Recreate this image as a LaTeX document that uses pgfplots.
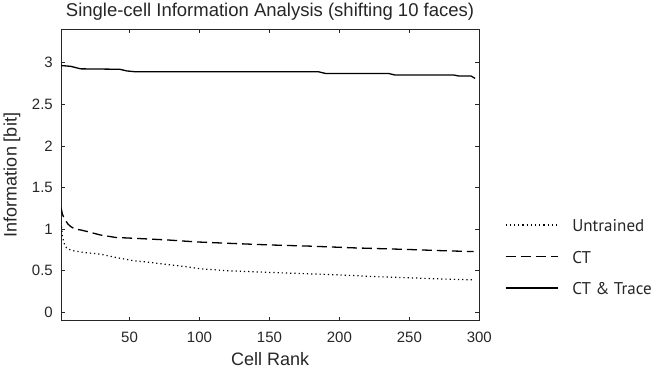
\documentclass[border=0pt]{standalone}
\usepackage{fontspec}
\setmainfont{Liberation Sans}
\newfontfamily\legfont{PT Sans}
\usepackage{pgfplots}
\pgfplotsset{compat=1.18}
\definecolor{axgray}{rgb}{0.15,0.15,0.15}
\begin{document}
\begin{tikzpicture}
\path[use as bounding box] (0,0) rectangle (651bp,374bp);
\begin{axis}[
  at={(61bp,53.3bp)}, anchor=south west,
  scale only axis, width=418.3bp, height=291.4bp,
  xmin=1, xmax=300, ymin=-0.1, ymax=3.4,
  xtick={50,100,150,200,250,300},
  ytick={0,0.5,1,1.5,2,2.5,3},
  yticklabels={0,0.5,1,1.5,2,2.5,3},
  tick align=inside, major tick length=4bp,
  axis line style={draw=axgray, line width=0.6bp},
  every tick/.style={draw=axgray, line width=0.6bp},
  /pgf/number format/assume math mode=true,
  tick label style={font=\fontsize{15bp}{18bp}\selectfont, text=axgray},
  xticklabel style={anchor=base, yshift=-21.6bp, inner sep=0pt},
  yticklabel style={anchor=east, inner sep=0pt, xshift=-8bp},
  label style={font=\fontsize{18bp}{21bp}\selectfont, text=axgray},
  xlabel={Cell Rank},
  ylabel={Information [bit]},
  xlabel style={at={(axis description cs:0.5,-0.155)}, anchor=base, inner sep=0pt},
  ylabel style={at={(axis description cs:-0.117,0.5)}, anchor=center, inner sep=0pt},
  title={Single-cell Information Analysis (shifting 10 faces)},
  title style={at={(axis description cs:0.4997,1.0227)}, anchor=base, inner sep=0pt,
    font=\fontsize{18.5bp}{22bp}\selectfont, text=axgray},
  legend style={at={(1.061,0.215)}, anchor=west, draw=none, fill=none,
    font=\legfont\fontsize{17bp}{20bp}\selectfont, text=axgray,
    row sep=18bp, column sep=14bp, inner sep=0pt, nodes={inner sep=0pt}},
  legend cell align=left,
  legend image code/.code={\draw[#1] (0bp,1.5bp) -- (52bp,1.5bp);},
]
\addplot[black, line width=1.2bp, dash pattern=on 1.2bp off 3bp] coordinates {
(1,1.08) (2,0.92) (3,0.84) (4,0.80) (5,0.775) (7,0.755) (10,0.74) (15,0.725)
(20,0.715) (29,0.70) (40,0.66) (53,0.62) (65,0.60) (77,0.575) (90,0.55)
(100,0.525) (120,0.50) (150,0.48) (175,0.465) (200,0.45) (225,0.43)
(250,0.415) (275,0.40) (296,0.39)};
\addlegendentry{Untrained}
\addplot[black, line width=1.3bp, dash pattern=on 10bp off 5bp] coordinates {
(1,1.26) (2,1.18) (3,1.14) (4,1.11) (6,1.06) (8,1.03) (11,1.00) (15,0.99)
(20,0.97) (29,0.93) (40,0.90) (53,0.89) (77,0.87) (98,0.846) (120,0.83)
(150,0.81) (180,0.795) (210,0.775) (250,0.755) (275,0.74) (296,0.73)};
\addlegendentry{CT}
\addplot[black, line width=1.3bp] coordinates {
(1,2.965) (8,2.955) (15,2.925) (43,2.92) (48,2.90) (54,2.89) (185,2.89)
(190,2.87) (235,2.87) (240,2.85) (282,2.85) (285,2.84) (294,2.84) (297,2.81)};
\addlegendentry{CT \& Trace}
\end{axis}
\end{tikzpicture}
\end{document}
